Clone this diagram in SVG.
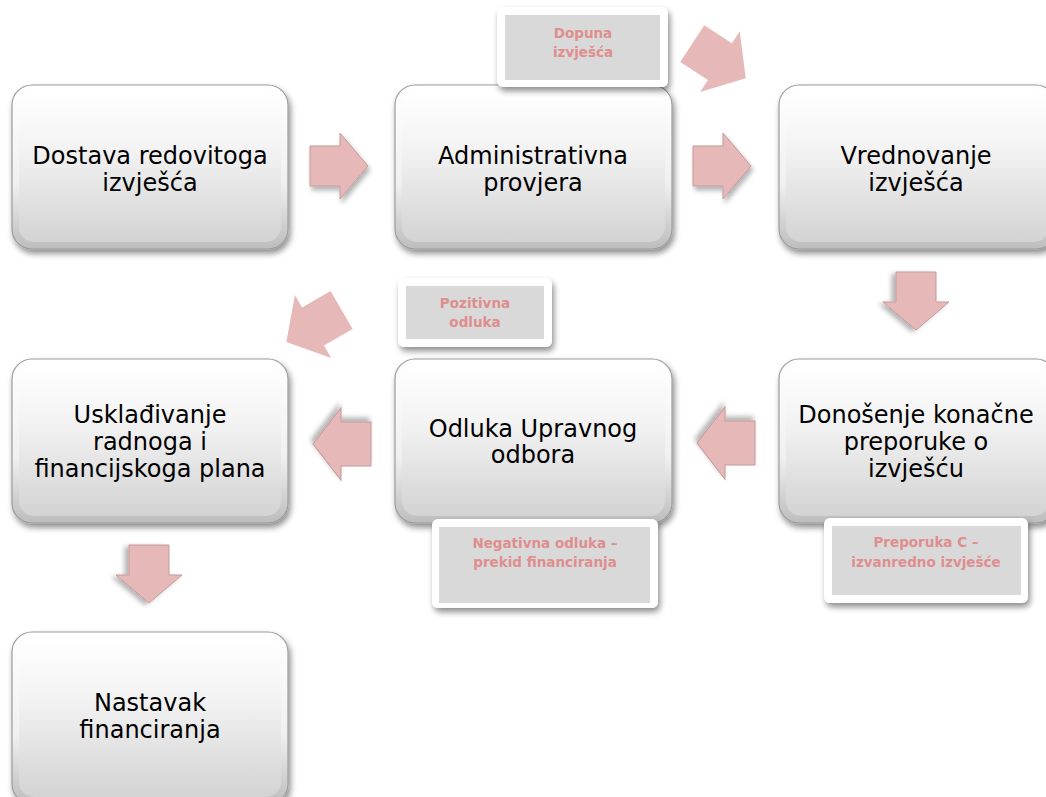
<svg xmlns="http://www.w3.org/2000/svg" width="1046" height="797" viewBox="0 0 1046 797">
<defs>
<linearGradient id="rim" x1="0" y1="0" x2="0" y2="1">
<stop offset="0" stop-color="#ffffff"/><stop offset="0.6" stop-color="#f0f0f0"/><stop offset="1" stop-color="#bdbdbd"/>
</linearGradient>
<linearGradient id="face" x1="0" y1="0" x2="0" y2="1">
<stop offset="0" stop-color="#ffffff"/><stop offset="0.35" stop-color="#f4f4f4"/><stop offset="1" stop-color="#d3d3d3"/>
</linearGradient>
<filter id="sh" x="-10%" y="-10%" width="125%" height="130%">
<feGaussianBlur in="SourceAlpha" stdDeviation="3"/>
<feOffset dx="2" dy="4" result="b"/>
<feComponentTransfer><feFuncA type="linear" slope="0.45"/></feComponentTransfer>
<feMerge><feMergeNode/><feMergeNode in="SourceGraphic"/></feMerge>
</filter>
<filter id="ash" x="-30%" y="-30%" width="170%" height="170%">
<feGaussianBlur in="SourceAlpha" stdDeviation="2.5"/>
<feOffset dx="2" dy="4"/>
<feComponentTransfer><feFuncA type="linear" slope="0.3"/></feComponentTransfer>
<feMerge><feMergeNode/><feMergeNode in="SourceGraphic"/></feMerge>
</filter>
<polygon id="arr" points="-29,-20 1,-20 1,-33 29,0 1,33 1,20 -29,20"/>
</defs>
<style>
.rim{fill:url(#rim);stroke:#9c9c9c;stroke-width:1.2;filter:url(#sh)}
.face{fill:url(#face)}
.nt{font-family:"DejaVu Sans",Verdana,sans-serif;font-size:24px;fill:#000;text-anchor:middle}
.arrow{fill:#e6b9b8;stroke:#c49a9a;stroke-width:1;filter:url(#ash)}
.darrow{fill:#e6b9b8}
.lbox{fill:#ffffff;filter:url(#sh)}
.lin{fill:#d9d9d9}
.lt{font-family:"DejaVu Sans",Verdana,sans-serif;font-size:13.5px;font-weight:bold;fill:#df8e8e;text-anchor:middle}
</style>

<g id="connectors">
<use href="#arr" class="arrow" transform="translate(339,166)"/>
<use href="#arr" class="arrow" transform="translate(722,166)"/>
<use href="#arr" class="arrow" transform="translate(916,301) rotate(90)"/>
<use href="#arr" class="arrow" transform="translate(726,443) rotate(180) scale(1,1.1)"/>
<use href="#arr" class="arrow" transform="translate(342,444) rotate(180) scale(1,1.1)"/>
<use href="#arr" class="arrow" transform="translate(149,574) rotate(90)"/>
<use href="#arr" class="darrow" transform="translate(719,61) rotate(33) scale(1.1)"/>
<use href="#arr" class="darrow" transform="translate(314,326) rotate(150) scale(1.1)"/>
</g>

<g id="n1">
<rect class="rim" x="12" y="85" width="276" height="164" rx="20"/>
<rect class="face" x="19" y="92" width="262" height="150" rx="15"/>
<text class="nt" x="150" y="164">Dostava redovitoga</text>
<text class="nt" x="150" y="191">izvješća</text>
</g>
<g id="n2">
<rect class="rim" x="395" y="85" width="277" height="164" rx="20"/>
<rect class="face" x="402" y="92" width="263" height="150" rx="15"/>
<text class="nt" x="533" y="164">Administrativna</text>
<text class="nt" x="533" y="191">provjera</text>
</g>
<g id="n3">
<rect class="rim" x="779" y="85" width="277" height="164" rx="20"/>
<rect class="face" x="786" y="92" width="263" height="150" rx="15"/>
<text class="nt" x="916" y="164">Vrednovanje</text>
<text class="nt" x="916" y="191">izvješća</text>
</g>
<g id="n4">
<rect class="rim" x="779" y="359" width="277" height="164" rx="20"/>
<rect class="face" x="786" y="366" width="263" height="150" rx="15"/>
<text class="nt" x="916" y="423">Donošenje konačne</text>
<text class="nt" x="916" y="450">preporuke o</text>
<text class="nt" x="916" y="477">izvješću</text>
</g>
<g id="n5">
<rect class="rim" x="395" y="359" width="277" height="164" rx="20"/>
<rect class="face" x="402" y="366" width="263" height="150" rx="15"/>
<text class="nt" x="533" y="437">Odluka Upravnog</text>
<text class="nt" x="533" y="463">odbora</text>
</g>
<g id="n6">
<rect class="rim" x="12" y="359" width="276" height="164" rx="20"/>
<rect class="face" x="19" y="366" width="262" height="150" rx="15"/>
<text class="nt" x="150" y="423">Usklađivanje</text>
<text class="nt" x="150" y="450">radnoga i</text>
<text class="nt" x="150" y="477">financijskoga plana</text>
</g>
<g id="n7">
<rect class="rim" x="12" y="632" width="276" height="172" rx="20"/>
<rect class="face" x="19" y="639" width="262" height="158" rx="15"/>
<text class="nt" x="150" y="711">Nastavak</text>
<text class="nt" x="150" y="738">financiranja</text>
</g>

<g id="l1">
<rect class="lbox" x="497" y="7" width="171" height="80" rx="6"/>
<rect class="lin" x="505" y="15" width="155" height="65"/>
<text class="lt" x="583" y="38">Dopuna</text>
<text class="lt" x="583" y="57">izvješća</text>
</g>
<g id="l2">
<rect class="lbox" x="398" y="278" width="154" height="69" rx="6"/>
<rect class="lin" x="406" y="286" width="138" height="53"/>
<text class="lt" x="475" y="308">Pozitivna</text>
<text class="lt" x="475" y="327">odluka</text>
</g>
<g id="l3">
<rect class="lbox" x="432" y="519" width="226" height="89" rx="6"/>
<rect class="lin" x="439" y="527" width="211" height="76"/>
<text class="lt" x="545" y="548">Negativna odluka –</text>
<text class="lt" x="545" y="567">prekid financiranja</text>
</g>
<g id="l4">
<rect class="lbox" x="824" y="518" width="204" height="85" rx="6"/>
<rect class="lin" x="832" y="526" width="189" height="69"/>
<text class="lt" x="926" y="547">Preporuka C –</text>
<text class="lt" x="926" y="567">izvanredno izvješće</text>
</g>
</svg>
